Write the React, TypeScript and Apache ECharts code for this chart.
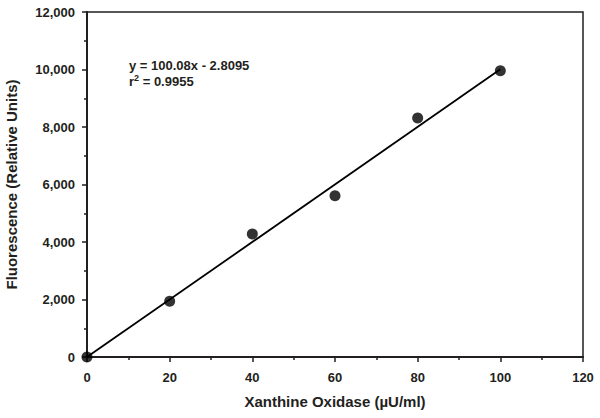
import React, { useEffect, useRef } from "react";
import * as echarts from "echarts";

const concentrations = [0, 20, 40, 60, 80, 100];
const fluorescence = [0, 1940, 4280, 5610, 8310, 9955];
const fitX = [0, 100];
const fitY = [-2.8, 10005];
const equationLine = "y = 100.08x - 2.8095";
const r2Value = "0.9955";
const xTitle = "Xanthine Oxidase (µU/ml)";
const yTitle = "Fluorescence (Relative Units)";

const FONT = "'Liberation Sans', Arial, Helvetica, sans-serif";
const INK = "#231f20";

export default function App() {
  const ref = useRef<HTMLDivElement>(null);
  useEffect(() => {
    if (!ref.current) return;
    const chart = echarts.init(ref.current, null, { renderer: "svg" });
    const left = 87, right = 17, top = 12, bottom = 61;
    chart.setOption({
      animation: false,
      backgroundColor: "#ffffff",
      grid: {
        left, right, top, bottom,
        containLabel: false,
        outerBoundsMode: "none",
        show: true,
        borderColor: INK,
        borderWidth: 1.5,
        backgroundColor: "transparent",
      },
      xAxis: {
        type: "value",
        min: 0,
        max: 120,
        interval: 20,
        name: xTitle,
        nameLocation: "middle",
        nameGap: 37,
        nameTextStyle: { fontFamily: FONT, fontWeight: "bold", fontSize: 15, color: INK },
        axisLine: { show: true, lineStyle: { color: INK, width: 2 } },
        axisTick: { show: true, inside: false, length: 5, lineStyle: { color: INK, width: 1.5 } },
        minorTick: { show: true, splitNumber: 2, length: 3, lineStyle: { color: INK, width: 1.5 } },
        splitLine: { show: false },
        axisLabel: { fontFamily: FONT, fontWeight: "bold", fontSize: 13, color: INK, margin: 14 },
      },
      yAxis: {
        type: "value",
        min: 0,
        max: 12000,
        interval: 2000,
        name: yTitle,
        nameLocation: "middle",
        nameGap: 68,
        nameTextStyle: { fontFamily: FONT, fontWeight: "bold", fontSize: 15, color: INK },
        axisLine: { show: true, lineStyle: { color: INK, width: 2 } },
        axisTick: { show: true, inside: false, length: 5, lineStyle: { color: INK, width: 1.5 } },
        minorTick: { show: true, splitNumber: 2, length: 3, lineStyle: { color: INK, width: 1.5 } },
        splitLine: { show: false },
        axisLabel: {
          fontFamily: FONT, fontWeight: "bold", fontSize: 13, color: INK, margin: 12,
          formatter: (v: number) => v.toLocaleString("en-US"),
        },
      },
      series: [
        {
          type: "line",
          data: fitX.map((x, i) => [x, fitY[i]]),
          showSymbol: false,
          symbol: "none",
          lineStyle: { color: "#000", width: 1.8 },
          z: 2,
          silent: true,
        },
        {
          type: "scatter",
          data: concentrations.map((x, i) => [x, fluorescence[i]]),
          symbol: "circle",
          symbolSize: 11,
          itemStyle: { color: "#000" },
          z: 3,
        },
      ],
      graphic: [
        {
          type: "text",
          left: 129,
          top: 57,
          style: {
            text: "{r|" + equationLine + "}\n{r|r}{sup|2}{r| = " + r2Value + "}",
            fontFamily: FONT,
            fontWeight: "bold",
            fontSize: 13,
            lineHeight: 16,
            fill: INK,
            rich: {
              r: { fontFamily: FONT, fontWeight: "bold", fontSize: 13, fill: INK, lineHeight: 16 },
              sup: { fontFamily: FONT, fontWeight: "bold", fontSize: 9, fill: INK, verticalAlign: "top", lineHeight: 16, padding: [0, 0, 6, 0] },
            },
          },
        },
      ],
    });
    return () => chart.dispose();
  }, []);
  return <div ref={ref} style={{ width: 600, height: 418, position: "absolute", left: 0, top: 0 }} />;
}
